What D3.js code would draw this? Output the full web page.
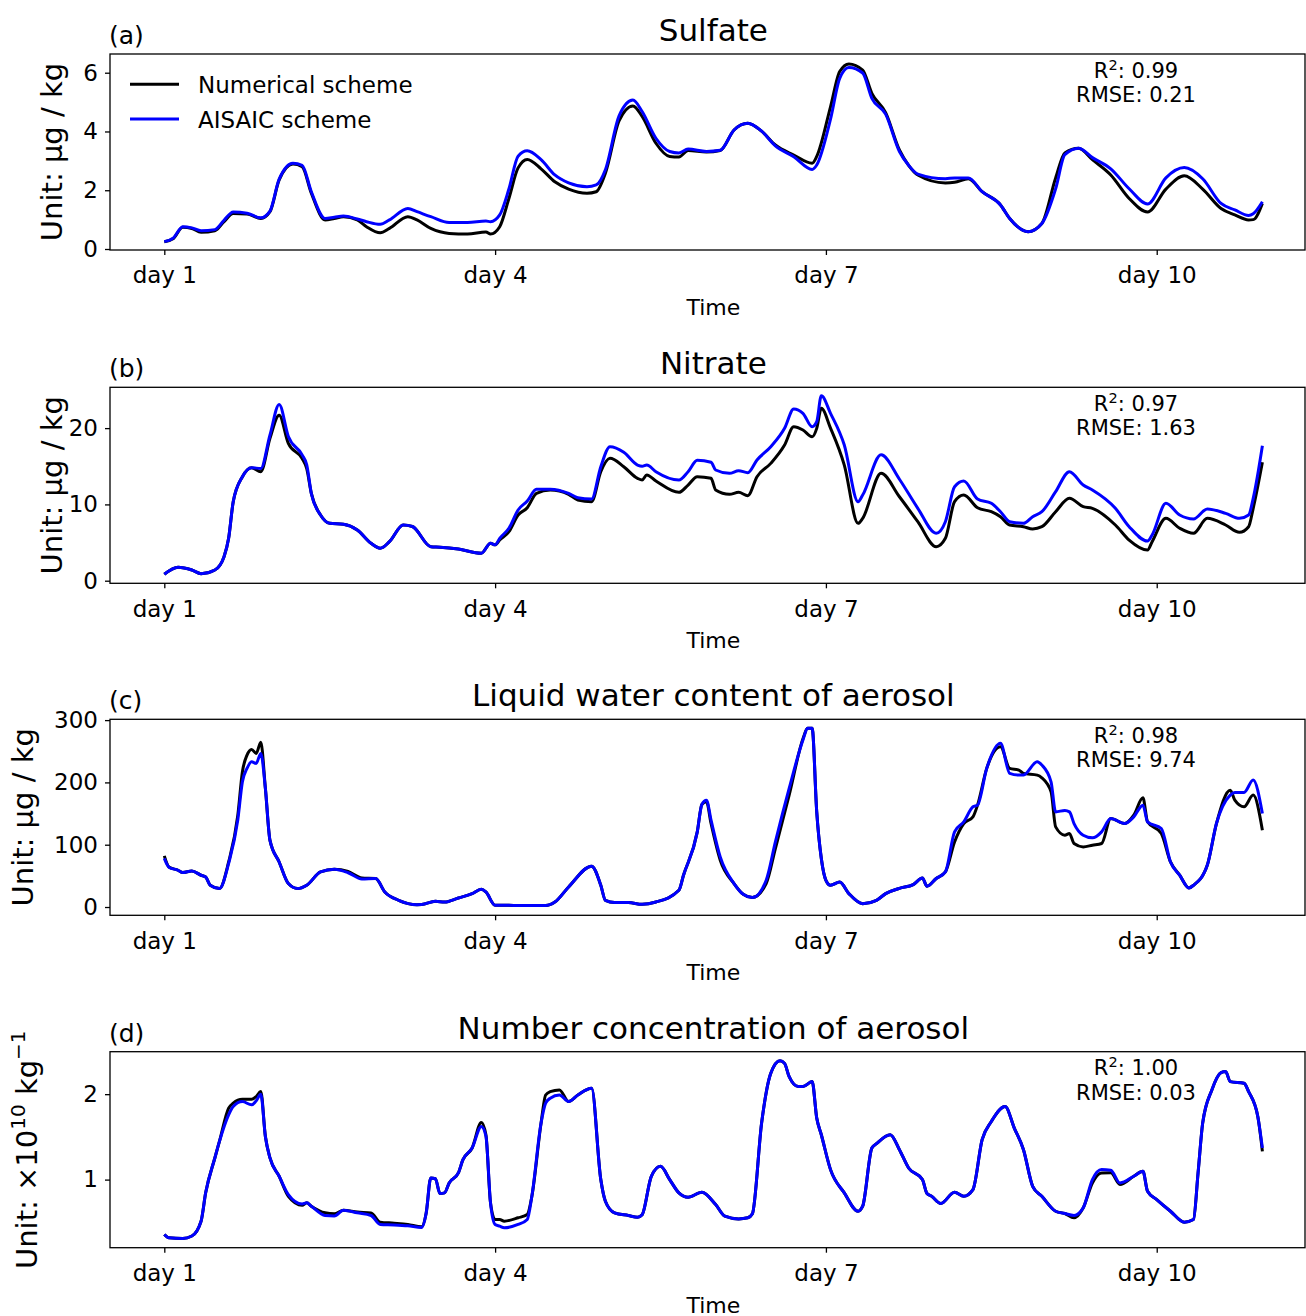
<!DOCTYPE html>
<html>
<head>
<meta charset="utf-8">
<script src="https://cdn.jsdelivr.net/npm/d3@7"></script>
<style>
  body { margin: 0; background: #fff; }
  text { font-family: "DejaVu Sans", sans-serif; fill: #000; }
</style>
</head>
<body>
<script>
// Time axis (hours since start) and tick labels
var dayTicks = [0, 72, 144, 216];
var dayLabels = ["day 1", "day 4", "day 7", "day 10"];

var titles = ["Sulfate", "Nitrate", "Liquid water content of aerosol", "Number concentration of aerosol"];
var panelTags = ["(a)", "(b)", "(c)", "(d)"];
var r2Values = ["0.99", "0.97", "0.98", "1.00"];
var rmseValues = ["0.21", "1.63", "9.74", "0.03"];
var yTicks = [[0, 2, 4, 6], [0, 10, 20], [0, 100, 200, 300], [1, 2]];

// (a) Sulfate
var hoursA = [0,2,4,6,8,11,13,15,18,21,23,25,28,30,32,35,37,39,42,44,47,49,53,55,58,62,66,70,71,73,75,77,79,82,85,88,92,94,96,99,102,104,107,110,112,114,118,121,124,127,130,133,137,141,142,145,147,149,152,154,157,160,162,164,170,172,175,178,182,184,188,191,194,196,199,202,206,210,214,218,222,226,230,233,236,237,239];
var numA = [0.25,0.36,0.74,0.70,0.57,0.62,0.93,1.21,1.19,1.04,1.27,2.35,2.89,2.80,1.90,0.99,1.04,1.10,0.99,0.76,0.55,0.70,1.10,0.99,0.70,0.53,0.51,0.58,0.51,0.76,1.72,2.76,3.05,2.73,2.29,2.04,1.90,1.95,2.58,4.37,4.87,4.51,3.60,3.15,3.13,3.35,3.30,3.35,4.05,4.28,4.01,3.54,3.20,2.92,3.15,4.84,6.04,6.30,6.09,5.30,4.64,3.37,2.85,2.52,2.25,2.27,2.39,1.95,1.50,1.04,0.59,0.87,2.42,3.27,3.43,3.04,2.52,1.72,1.26,2.04,2.49,2.04,1.38,1.16,0.99,1.00,1.55];
var aiA = [0.25,0.38,0.76,0.72,0.62,0.66,0.98,1.26,1.22,1.06,1.29,2.38,2.92,2.85,1.95,1.04,1.08,1.12,1.02,0.93,0.84,0.99,1.38,1.27,1.10,0.90,0.90,0.95,0.93,1.16,2.04,3.16,3.34,3.04,2.52,2.25,2.12,2.18,2.70,4.54,5.07,4.68,3.77,3.32,3.27,3.40,3.32,3.36,4.05,4.28,4.01,3.51,3.14,2.71,2.86,4.42,5.81,6.18,5.99,5.13,4.59,3.32,2.85,2.55,2.39,2.42,2.42,1.95,1.50,1.04,0.59,0.87,2.05,3.21,3.43,3.11,2.73,2.05,1.53,2.42,2.77,2.39,1.55,1.33,1.14,1.20,1.61];

// (b) Nitrate
var hoursB = [0,3,6,8,11,13,14,15,17,19,21,23,25,27,30,31,32,34,36,39,42,45,47,49,52,54,58,60,64,69,71,72,73,75,77,79,81,84,88,90,93,95,97,100,103,104,105,107,112,114,116,119,120,123,125,127,129,132,135,137,139,141,142,143,145,148,151,152,156,160,164,168,170,172,174,177,180,182,184,187,189,191,194,197,200,202,207,210,214,215,218,221,224,227,231,234,236,237,239];
var numB = [0.84,1.76,1.40,0.92,1.40,3.15,5.56,10.35,13.63,14.81,14.29,18.66,21.7,18.0,16.0,14.7,11.45,8.61,7.52,7.39,6.64,4.90,4.25,5.11,7.30,7.10,4.46,4.40,4.15,3.59,4.90,4.70,5.33,6.42,8.61,9.57,11.45,11.89,11.32,10.58,10.36,14.29,16.04,14.94,13.42,13.2,13.85,13.07,11.58,12.54,13.63,13.42,11.89,11.32,11.58,11.14,13.63,15.38,17.78,20.18,19.75,18.87,19.97,22.6,20.0,15.16,7.52,8.17,14.07,11.0,7.73,4.46,5.56,10.36,11.23,9.57,9.04,8.39,7.30,7.08,6.78,7.08,9.04,10.8,9.7,9.49,7.30,5.33,4.02,5.11,8.17,6.87,6.21,8.17,7.30,6.34,7.08,9.49,15.52];
var aiB = [0.84,1.76,1.40,0.92,1.40,3.15,5.56,10.35,13.63,14.81,14.7,19.1,23.1,18.9,16.5,15.2,11.45,8.61,7.52,7.39,6.64,4.90,4.25,5.11,7.30,7.10,4.46,4.40,4.15,3.59,4.90,4.70,5.56,6.87,9.27,10.45,11.98,12.0,11.45,10.88,10.71,14.94,17.56,16.83,15.16,15.0,15.16,14.29,13.2,14.29,15.78,15.52,14.51,14.07,14.42,14.16,15.82,17.56,19.97,22.5,21.94,20.18,20.84,24.25,21.94,17.78,10.36,11.23,16.5,13.3,9.49,6.21,7.73,12.32,13.07,10.71,10.14,9.04,7.73,7.52,8.39,9.04,11.67,14.29,12.54,11.89,9.49,7.08,5.2,5.99,10.14,8.61,8.09,9.4,8.83,8.17,8.61,10.8,17.69];

// (c) Liquid water content of aerosol
var hoursC = [0,1,3,4,6,8,9,10,12,14,16,17,18,19,20,21,22,23,25,27,29,31,34,37,40,43,46,48,51,55,56,59,61,64,67,69,70,72,75,77,83,85,88,93,95,96,98,101,104,107,112,113,116,117,118,119,121,124,126,128,131,133,136,139,140,141,142,143,144,145,147,149,152,155,157,160,163,165,166,168,170,172,174,176,177,179,182,184,186,187,190,191,193,194,196,197,198,200,202,204,206,209,211,213,214,217,219,221,223,224,227,229,232,233,235,237,239];
var numC = [82,64.3,59,55.3,57.9,51,48.2,34.9,29.6,72.3,147.4,217,243.9,253,246.6,264.3,190.3,107,72.3,37.6,29.6,34.9,56.3,60.6,57,46.6,45.7,24.1,10.8,3.8,4.0,9.2,8.0,14.5,21.5,28.5,24.1,2.7,2.7,2.4,2.4,8,32.2,65.4,34.9,10.8,7.1,7.1,4.3,8.0,26.8,51,120.6,164.6,168.8,134,75,37.6,20.4,15.1,37.6,93.9,179.6,270,286.8,286.8,152.7,77.8,42.9,34.9,40.2,21.5,5.4,10.8,21.5,30,36,46.6,33.3,45.7,56.3,104.5,134,144.7,163.5,222.5,257.2,222.5,219.8,214.5,211.7,207.4,184.9,128.6,115.3,118,101.9,96.5,99.2,101.9,142.1,134,147.4,175.2,136.7,118,72.3,51,30.6,34.9,67,134,187.6,171.5,160.8,179.6,123.3];
var aiC = [78,64,59,55.3,57.9,51,48.2,34.9,29.6,70,140,201,222.5,233,230.5,246.6,190.3,107,72.3,37.6,29.6,34.9,56.3,60.6,55,45,45.7,24.1,10.8,3.8,4.0,9.2,8.0,14.5,21.5,28.5,24.1,2.7,2.7,2.4,2.4,8,32.2,65.4,34.9,10.8,7.1,7.1,4.3,8.0,26.8,51,120.6,164.6,171.5,139.4,80.4,37.6,20.4,15.1,42.9,104.5,190.3,268,286.8,286.8,152.7,77.8,42.9,34.9,40.2,21.5,5.4,10.8,21.5,30,36,46.6,33.3,45.7,56.3,120.6,136.7,160.8,163.5,222.5,262.7,214.5,211.7,212,233.1,227.8,201,152.7,155,152.7,134,115.3,111,120.6,142.1,134,144.7,163.5,136.7,126,72.3,51,30.6,34.9,67,134,179.6,183.9,183.9,203.7,150.1];

// (d) Number concentration of aerosol (x 1e10 per kg)
var hoursD = [0,1,4,6,8,9,11,12,14,15,17,19,20,21,22,23,25,27,30,31,32,35,37,39,42,45,47,50,53,56,57,58,59,60,61,62,64,65,67,69,70,71,72,73,74,77,79,80,82,83,84,86,88,90,93,95,96,98,101,103,104,106,108,110,112,114,117,120,122,125,127,128,130,132,134,135,136,138,139,141,142,143,145,148,151,152,154,155,158,160,162,165,166,167,169,172,174,176,178,180,183,185,187,189,191,194,196,198,200,202,204,206,208,211,213,214,216,219,222,224,225,226,228,230,231,232,235,236,238,239];
var numD = [0.358,0.32,0.312,0.34,0.513,0.845,1.253,1.447,1.836,1.895,1.94,1.94,1.972,2.03,1.505,1.253,1.039,0.805,0.70,0.728,0.689,0.611,0.60,0.642,0.62,0.61,0.502,0.49,0.475,0.448,0.61,1.02,1.01,0.837,0.845,0.961,1.078,1.233,1.37,1.669,1.525,0.728,0.533,0.533,0.514,0.553,0.592,0.805,1.661,1.99,2.03,2.05,1.914,1.99,2.07,1.0,0.747,0.611,0.58,0.56,0.59,1.039,1.155,1.0,0.845,0.794,0.852,0.708,0.572,0.54,0.553,0.60,1.661,2.245,2.392,2.36,2.205,2.089,2.089,2.147,1.72,1.525,1.117,0.845,0.63,0.689,1.37,1.42,1.525,1.35,1.136,1.0,0.837,0.805,0.72,0.852,0.805,0.883,1.467,1.68,1.855,1.603,1.35,0.922,0.805,0.63,0.603,0.553,0.669,0.961,1.078,1.08,0.942,1.039,1.097,0.864,0.767,0.63,0.502,0.533,1.078,1.661,2.05,2.252,2.264,2.147,2.128,2.03,1.739,1.33];
var aiD = [0.358,0.32,0.312,0.34,0.513,0.845,1.253,1.447,1.758,1.855,1.913,1.875,1.922,2.0,1.505,1.253,1.039,0.825,0.715,0.728,0.689,0.58,0.575,0.642,0.611,0.58,0.475,0.47,0.46,0.44,0.61,1.02,1.01,0.837,0.845,0.961,1.078,1.233,1.37,1.622,1.51,0.728,0.475,0.455,0.436,0.475,0.533,0.805,1.661,1.895,1.953,1.99,1.914,1.99,2.07,1.0,0.747,0.611,0.58,0.56,0.59,1.039,1.155,1.0,0.845,0.794,0.852,0.708,0.572,0.54,0.553,0.60,1.661,2.245,2.392,2.36,2.205,2.089,2.089,2.147,1.72,1.525,1.117,0.845,0.63,0.689,1.37,1.42,1.525,1.35,1.136,1.0,0.837,0.805,0.72,0.852,0.805,0.883,1.467,1.68,1.855,1.603,1.35,0.922,0.805,0.63,0.603,0.58,0.669,1.0,1.117,1.11,0.961,1.039,1.097,0.864,0.767,0.63,0.502,0.533,1.078,1.661,2.05,2.252,2.264,2.147,2.128,2.03,1.739,1.37];

var seriesHours = [hoursA, hoursB, hoursC, hoursD];
var seriesNum = [numA, numB, numC, numD];
var seriesAI = [aiA, aiB, aiC, aiD];

// Layout
var width = 1306, height = 1316;
var plotLeft = 110, plotRight = 1305, plotH = 196;
var panelTops = [54, 387.3, 719.3, 1051.7];
var yLimits = [[-0.034, 6.637], [-0.34, 25.35], [-13.3, 301.3], [0.203, 2.497]];
var yLabelX = [62, 62, 33, 37];
var colNum = "#000000", colAI = "#0000ff";

var svg = d3.select("body").append("svg")
    .attr("width", width)
    .attr("height", height);

// x: axis spans to 1317 (picture is cropped at the right)
var x = d3.scaleLinear().domain([-11.95, 250.95]).range([109.4, 1317.3]);
var titleX = (109.4 + 1317.3) / 2;

seriesHours.forEach(function(hours, i) {
    var top = panelTops[i];
    var y = d3.scaleLinear().domain(yLimits[i]).range([top + plotH, top]);
    var g = svg.append("g");

    var line = d3.line()
        .x(function(d) { return x(d[0]); })
        .y(function(d) { return y(d[1]); })
        .curve(d3.curveMonotoneX);

    var numData = hours.map(function(h, k) { return [h, seriesNum[i][k]]; });
    var aiData = hours.map(function(h, k) { return [h, seriesAI[i][k]]; });

    g.append("path").datum(numData)
        .attr("fill", "none").attr("stroke", colNum).attr("stroke-width", 3)
        .attr("stroke-linejoin", "round").attr("d", line);
    g.append("path").datum(aiData)
        .attr("fill", "none").attr("stroke", colAI).attr("stroke-width", 3)
        .attr("stroke-linejoin", "round").attr("d", line);

    // frame
    g.append("rect")
        .attr("x", plotLeft).attr("y", top)
        .attr("width", plotRight - plotLeft).attr("height", plotH)
        .attr("fill", "none").attr("stroke", "#000").attr("stroke-width", 1.3);

    // x axis
    var xAxis = g.append("g")
        .attr("transform", "translate(0," + (top + plotH) + ")")
        .call(d3.axisBottom(x).tickValues(dayTicks)
            .tickFormat(function(d, k) { return dayLabels[k]; })
            .tickSize(5).tickPadding(12));
    // y axis
    var yAxis = g.append("g")
        .attr("transform", "translate(" + plotLeft + ",0)")
        .call(d3.axisLeft(y).tickValues(yTicks[i])
            .tickFormat(d3.format("d"))
            .tickSize(5).tickPadding(7));

    [xAxis, yAxis].forEach(function(ax) {
        ax.select(".domain").remove();
        ax.selectAll(".tick line").attr("stroke", "#000").attr("stroke-width", 1.3);
        ax.selectAll(".tick text")
            .attr("font-size", 23).attr("fill", "#000")
            .attr("font-family", "DejaVu Sans, sans-serif");
    });

    // x label
    g.append("text")
        .attr("x", titleX).attr("y", top + plotH + 65)
        .attr("text-anchor", "middle").attr("font-size", 22)
        .text("Time");

    // y label
    var yl = g.append("text")
        .attr("transform", "translate(" + yLabelX[i] + "," + (top + plotH / 2) + ") rotate(-90)")
        .attr("text-anchor", "middle").attr("font-size", 29);
    if (i < 3) {
        yl.text("Unit: \u00b5g / kg");
    } else {
        yl.append("tspan").text("Unit: \u00d710");
        yl.append("tspan").attr("font-size", 20).attr("dy", -12).text("10");
        yl.append("tspan").attr("dy", 12).text(" kg");
        yl.append("tspan").attr("font-size", 20).attr("dy", -12).text("\u22121");
    }

    // title and tag
    g.append("text")
        .attr("x", titleX).attr("y", top - 13)
        .attr("text-anchor", "middle").attr("font-size", 31)
        .text(titles[i]);
    g.append("text")
        .attr("x", 109).attr("y", top - 10)
        .attr("font-size", 25)
        .text(panelTags[i]);

    // statistics
    var r2 = g.append("text")
        .attr("x", 1136).attr("y", top + 23.5)
        .attr("text-anchor", "middle").attr("font-size", 21);
    r2.append("tspan").text("R");
    r2.append("tspan").attr("font-size", 14.5).attr("dy", -8).text("2");
    r2.append("tspan").attr("dy", 8).text(": " + r2Values[i]);
    g.append("text")
        .attr("x", 1136).attr("y", top + 48)
        .attr("text-anchor", "middle").attr("font-size", 21)
        .text("RMSE: " + rmseValues[i]);
});

// Legend (panel a)
var legendItems = [
    {label: "Numerical scheme", color: colNum},
    {label: "AISAIC scheme", color: colAI}
];
var legend = svg.append("g");
legendItems.forEach(function(d, k) {
    var ly = 84.3 + k * 34.7;
    legend.append("line")
        .attr("x1", 130).attr("x2", 179).attr("y1", ly).attr("y2", ly)
        .attr("stroke", d.color).attr("stroke-width", 3);
    legend.append("text")
        .attr("x", 198).attr("y", ly + 8.5)
        .attr("font-size", 23)
        .text(d.label);
});
</script>
</body>
</html>
